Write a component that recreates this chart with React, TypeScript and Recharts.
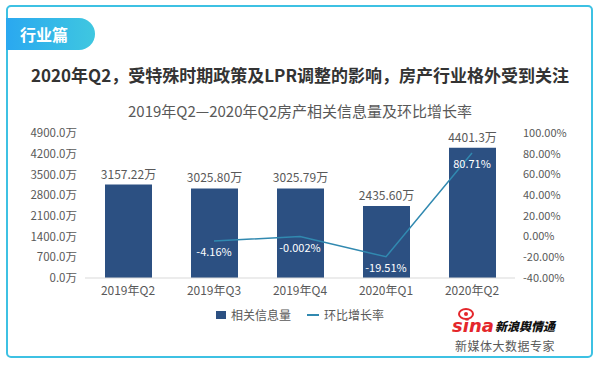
import React from "react";
import {
  Bar,
  ComposedChart,
  LabelList,
  Line,
  XAxis,
  YAxis,
} from "recharts";

const quarters = ["2019年Q2", "2019年Q3", "2019年Q4", "2020年Q1", "2020年Q2"];
const volumes = [3157.22, 3025.8, 3025.79, 2435.6, 4401.3];
const volumeText = ["3157.22万", "3025.80万", "3025.79万", "2435.60万", "4401.3万"];
const rates: (number | null)[] = [null, -4.16, -0.002, -19.51, 80.71];
const rateText = ["", "-4.16%", "-0.002%", "-19.51%", "80.71%"];
const leftTicks = [0, 700, 1400, 2100, 2800, 3500, 4200, 4900];
const rightTicks = [-40, -20, 0, 20, 40, 60, 80, 100];

const data = quarters.map((q, i) => ({
  quarter: q,
  volume: volumes[i],
  volumeLabel: volumeText[i],
  rate: rates[i],
}));

const BAR = "#2C5082";
const LINE = "#3189B0";
const TEXT = "#595959";
const FONT = "'Noto Sans CJK SC', 'Noto Sans', sans-serif";

// white % labels sit just under each line point
const RateLabel = (props: any) => {
  const { x, y, index } = props;
  const t = rateText[index];
  if (!t) return null;
  return (
    <text x={x} y={y + 10} fill="#fff" fontSize={11} textAnchor="middle" dominantBaseline="central">
      {t}
    </text>
  );
};

export default function App() {
  return (
    <div style={{ position: "relative", width: 600, height: 365, background: "#fff", fontFamily: FONT, overflow: "hidden" }}>
      <style>{"body{margin:0}"}</style>
      <div
        style={{
          position: "absolute",
          left: 6,
          top: 5,
          width: 583,
          height: 349,
          border: "2px solid #3DC1E3",
          borderRadius: 5,
        }}
      />
      <div
        style={{
          position: "absolute",
          left: 6,
          top: 18,
          width: 89,
          height: 32,
          borderRadius: "0 16px 16px 0",
          background: "linear-gradient(90deg, #2AA8F0, #3FC7E0)",
          color: "#fff",
          fontSize: 16,
          fontWeight: 700,
          lineHeight: "32px",
          paddingLeft: 14,
          boxSizing: "border-box",
        }}
      >
        行业篇
      </div>
      <div style={{ position: "absolute", left: 0, width: 600, top: 62, textAlign: "center", fontSize: 17, fontWeight: 700, color: "#333" }}>
        2020年Q2，受特殊时期政策及LPR调整的影响，房产行业格外受到关注
      </div>
      <div style={{ position: "absolute", left: 0, width: 600, top: 100, textAlign: "center", fontSize: 15, color: TEXT }}>
        2019年Q2—2020年Q2房产相关信息量及环比增长率
      </div>

      <div style={{ position: "absolute", left: 0, top: 0 }}>
        <ComposedChart width={600} height={365} data={data} margin={{ top: 133, right: 0, left: 0, bottom: 0 }}>
          <XAxis
            dataKey="quarter"
            height={87}
            tickLine={false}
            axisLine={{ stroke: "#D9D9D9" }}
            tick={{ fill: TEXT, fontSize: 12 }}
          />
          <YAxis
            yAxisId="left"
            width={85}
            domain={[0, 4900]}
            ticks={leftTicks}
            interval={0}
            tickLine={false}
            axisLine={false}
            tick={{ fill: TEXT, fontSize: 11.5 }}
            tickFormatter={(v: number) => `${v.toFixed(1)}万`}
          />
          <YAxis
            yAxisId="right"
            orientation="right"
            width={85}
            domain={[-40, 100]}
            ticks={rightTicks}
            interval={0}
            tickLine={false}
            axisLine={false}
            tick={{ fill: TEXT, fontSize: 11, textAnchor: "start" }}
            tickFormatter={(v: number) => `${v.toFixed(2)}%`}
          />
          <Bar yAxisId="left" dataKey="volume" fill={BAR} barSize={47} isAnimationActive={false}>
            <LabelList dataKey="volumeLabel" position="top" offset={6} fill={TEXT} fontSize={12} />
          </Bar>
          <Line
            yAxisId="right"
            dataKey="rate"
            stroke={LINE}
            strokeWidth={1.5}
            dot={false}
            activeDot={false}
            isAnimationActive={false}
          >
            <LabelList dataKey="rate" content={RateLabel} />
          </Line>
        </ComposedChart>
      </div>

      {/* legend */}
      <div
        style={{
          position: "absolute",
          left: 0,
          width: 600,
          top: 306,
          display: "flex",
          justifyContent: "center",
          alignItems: "center",
          fontSize: 12,
          color: TEXT,
        }}
      >
        <span style={{ width: 10, height: 8, background: BAR, marginRight: 5 }} />
        <span style={{ marginRight: 16 }}>相关信息量</span>
        <span style={{ width: 12, height: 2, background: LINE, marginRight: 5 }} />
        <span>环比增长率</span>
      </div>

      <div style={{ position: "absolute", left: 450, top: 308, width: 110 }}>
        <svg width={110} height={28}>
          <ellipse cx={16} cy={6} rx={7} ry={5} fill="none" stroke="#E4262B" strokeWidth={2} />
          <circle cx={16} cy={6} r={2} fill="#E4262B" />
          <text x={2} y={24} fontSize={18} fontWeight={900} fontStyle="italic" fill="#E4262B" fontFamily="'DejaVu Sans', sans-serif">
            sina
          </text>
          <text x={45} y={23} fontSize={12} fontWeight={900} fontStyle="italic" fill="#111">
            新浪舆情通
          </text>
        </svg>
      </div>
      <div style={{ position: "absolute", left: 455, top: 337, fontSize: 12, color: TEXT, letterSpacing: 0.5 }}>
        新媒体大数据专家
      </div>
    </div>
  );
}
